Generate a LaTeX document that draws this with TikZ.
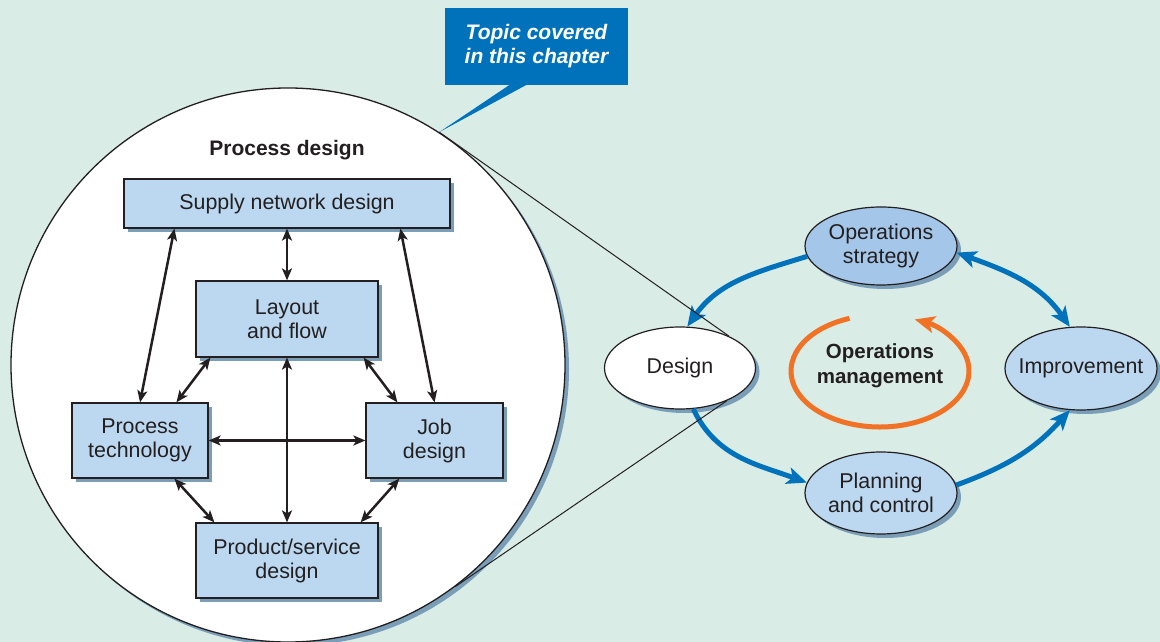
\documentclass[tikz,border=0pt]{standalone}
\usepackage{fontspec}
\setmainfont{Liberation Sans}
\usetikzlibrary{shapes.geometric,arrows.meta,calc}
\definecolor{bg}{RGB}{217,236,229}
\definecolor{boxfill}{RGB}{187,216,240}
\definecolor{stratfill}{RGB}{164,198,232}
\definecolor{shadowc}{RGB}{122,158,184}
\definecolor{opblue}{RGB}{0,114,188}
\definecolor{oporange}{RGB}{241,114,36}
\definecolor{txt}{RGB}{35,31,32}
\begin{document}
\begin{tikzpicture}[x=1pt,y=1pt,
  shadowed/.style={preaction={fill=shadowc, transform canvas={shift={(4pt,-4pt)}}}},
  box/.style={draw=txt, line width=1.2pt, fill=boxfill, shadowed, text=txt, align=center, inner sep=0pt, font=\fontsize{21.4}{24}\selectfont},
  oval/.style={ellipse, draw=txt, line width=1.2pt, fill=boxfill, shadowed, inner sep=0pt, minimum width=152pt, minimum height=82pt},
  ovtext/.style={text=txt, align=center, font=\fontsize{21.4}{24}\selectfont},
  dbl/.style={{Stealth[length=12pt,width=10pt,inset=3pt]}-{Stealth[length=12pt,width=10pt,inset=3pt]}, line width=2.5pt, draw=txt},
  flow/.style={-{Stealth[length=20pt,width=17pt,inset=5pt]}, line width=5pt, draw=opblue},
  tangent/.style={line width=1pt, draw=txt}
]
\useasboundingbox (0,0) rectangle (1160,642);
\fill[bg] (0,0) rectangle (1160,642);
\clip (0,0) rectangle (1160,642);

% big circle
\node[circle, draw=txt, line width=1.3pt, fill=white, minimum size=554pt, inner sep=0pt, shadowed] (circ) at (288,277) {};

% callout
\node[fill=opblue, minimum width=183pt, minimum height=77pt, inner sep=0pt, text=white, align=center,
      font=\fontsize{21}{24}\selectfont\bfseries\itshape] (callout) at (536.5,595.5) {Topic covered\\in this chapter};
\fill[opblue] ($(callout.south west)+(65,0.5)$) -- ($(callout.south west)+(82,0.5)$) -- (circ.57) -- cycle;

% process design
\node[text=txt, font=\fontsize{21}{24}\selectfont\bfseries] (pd) at (287,492) {Process design};

\node[box, minimum width=326pt, minimum height=49pt] (supply) at (287,438.5) {Supply network design};
\node[box, minimum width=182pt, minimum height=76pt] (layout) at (287,323) {Layout\\and flow};
\node[box, minimum width=136pt, minimum height=75pt] (proc) at (140,201.5) {Process\\technology};
\node[box, minimum width=137pt, minimum height=75pt] (job) at (434.5,201.5) {Job\\design};
\node[box, minimum width=182pt, minimum height=75pt] (prod) at (287,81.5) {Product/service\\design};

\draw[dbl] (supply.south) -- (layout.north);
\draw[dbl] ($(supply.south west)+(51,0)$) -- (proc.north);
\draw[dbl] ($(supply.south west)+(277,0)$) -- (job.north);
\draw[dbl] ($(layout.south west)+(15,0)$) -- ($(proc.north west)+(105,0)$);
\draw[dbl] ($(layout.south east)+(-15,0)$) -- ($(job.north west)+(32,0)$);
\draw[dbl] (layout.south) -- (prod.north);
\draw[dbl] (proc.east) -- (job.west);
\draw[dbl] ($(proc.south west)+(103,0)$) -- ($(prod.north west)+(19,0)$);
\draw[dbl] ($(job.south west)+(34,0)$) -- ($(prod.north east)+(-18,0)$);

% right side
\node[oval, fill=white, minimum width=151pt, label={[ovtext]center:Design}] (design) at (680,274) {};
\node[oval, fill=stratfill, minimum height=78pt, label={[ovtext]center:{Operations\\strategy}}] (strat) at (881,396) {};
\node[oval, minimum height=83pt, label={[ovtext]center:Improvement}] (improve) at (1081,273.5) {};
\node[oval, label={[ovtext]center:{Planning\\and control}}] (plan) at (881,149) {};

\node[text=txt, align=center, font=\fontsize{20.5}{25}\selectfont\bfseries] (opm) at (880,276.5) {Operations\\management};

\draw[flow] (strat.188) to[out=197, in=55] (design.80);
\draw[flow] (design.288) to[out=295, in=160] (plan.172);
\draw[flow] (plan.6) to[out=20, in=228] (improve.255);
\draw[flow, {Stealth[length=20pt,width=17pt,inset=5pt]}-{Stealth[length=20pt,width=17pt,inset=5pt]}] (strat.355) to[out=340, in=125] (improve.105);

\draw[line width=5pt, oporange, -{Stealth[length=20pt,width=17pt,inset=5pt]}]
  ([shift={(110:89 and 56)}]880,271) arc[start angle=110, end angle=427, x radius=89, y radius=56];

% magnifier lines
\draw[tangent] (circ.57) -- (design.33);
\draw[tangent] (circ.-53) -- (design.-35);
\end{tikzpicture}
\end{document}
